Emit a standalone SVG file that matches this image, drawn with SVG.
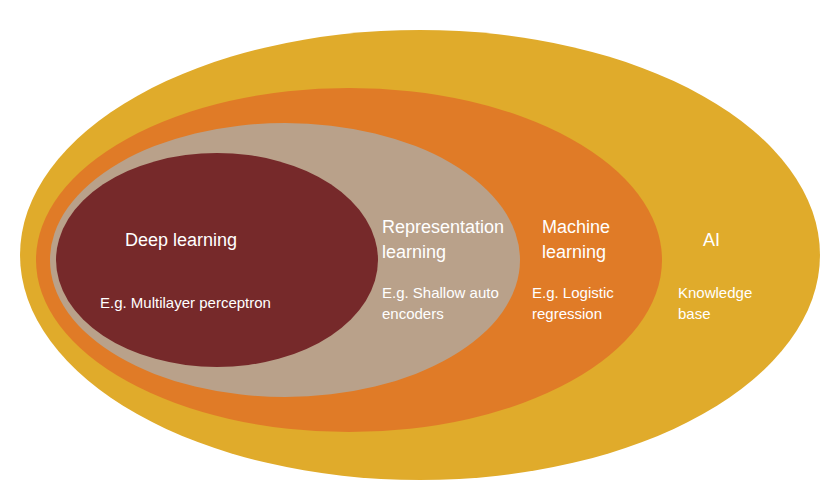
<svg xmlns="http://www.w3.org/2000/svg" width="840" height="503" viewBox="0 0 840 503">
<style>
text{font-family:"Liberation Sans",Arial,sans-serif;fill:#fff}
.t{font-size:18px}.s{font-size:15px}
</style>
<rect width="840" height="503" fill="#fff"/>
<g id="ai"><ellipse cx="420" cy="255" rx="400" ry="225" fill="#E0AB2B"/></g>
<g id="ml"><ellipse cx="349" cy="260" rx="313" ry="172" fill="#E07B27"/></g>
<g id="rl"><ellipse cx="285" cy="260" rx="235" ry="137" fill="#B9A18A"/></g>
<g id="dl"><ellipse cx="217" cy="260" rx="161" ry="107" fill="#76292A"/></g>
<g id="connectors"/>
<g id="labels">
<text class="t" x="125" y="246">Deep learning</text>
<text class="s" x="100" y="308">E.g. Multilayer perceptron</text>
<text class="t" x="382" y="233">Representation</text>
<text class="t" x="382" y="258">learning</text>
<text class="s" x="382" y="298">E.g. Shallow auto</text>
<text class="s" x="382" y="319">encoders</text>
<text class="t" x="542" y="233">Machine</text>
<text class="t" x="542" y="258">learning</text>
<text class="s" x="532" y="298">E.g. Logistic</text>
<text class="s" x="532" y="319">regression</text>
<text class="t" x="703" y="246">AI</text>
<text class="s" x="678" y="298">Knowledge</text>
<text class="s" x="678" y="319">base</text>
</g>
</svg>
